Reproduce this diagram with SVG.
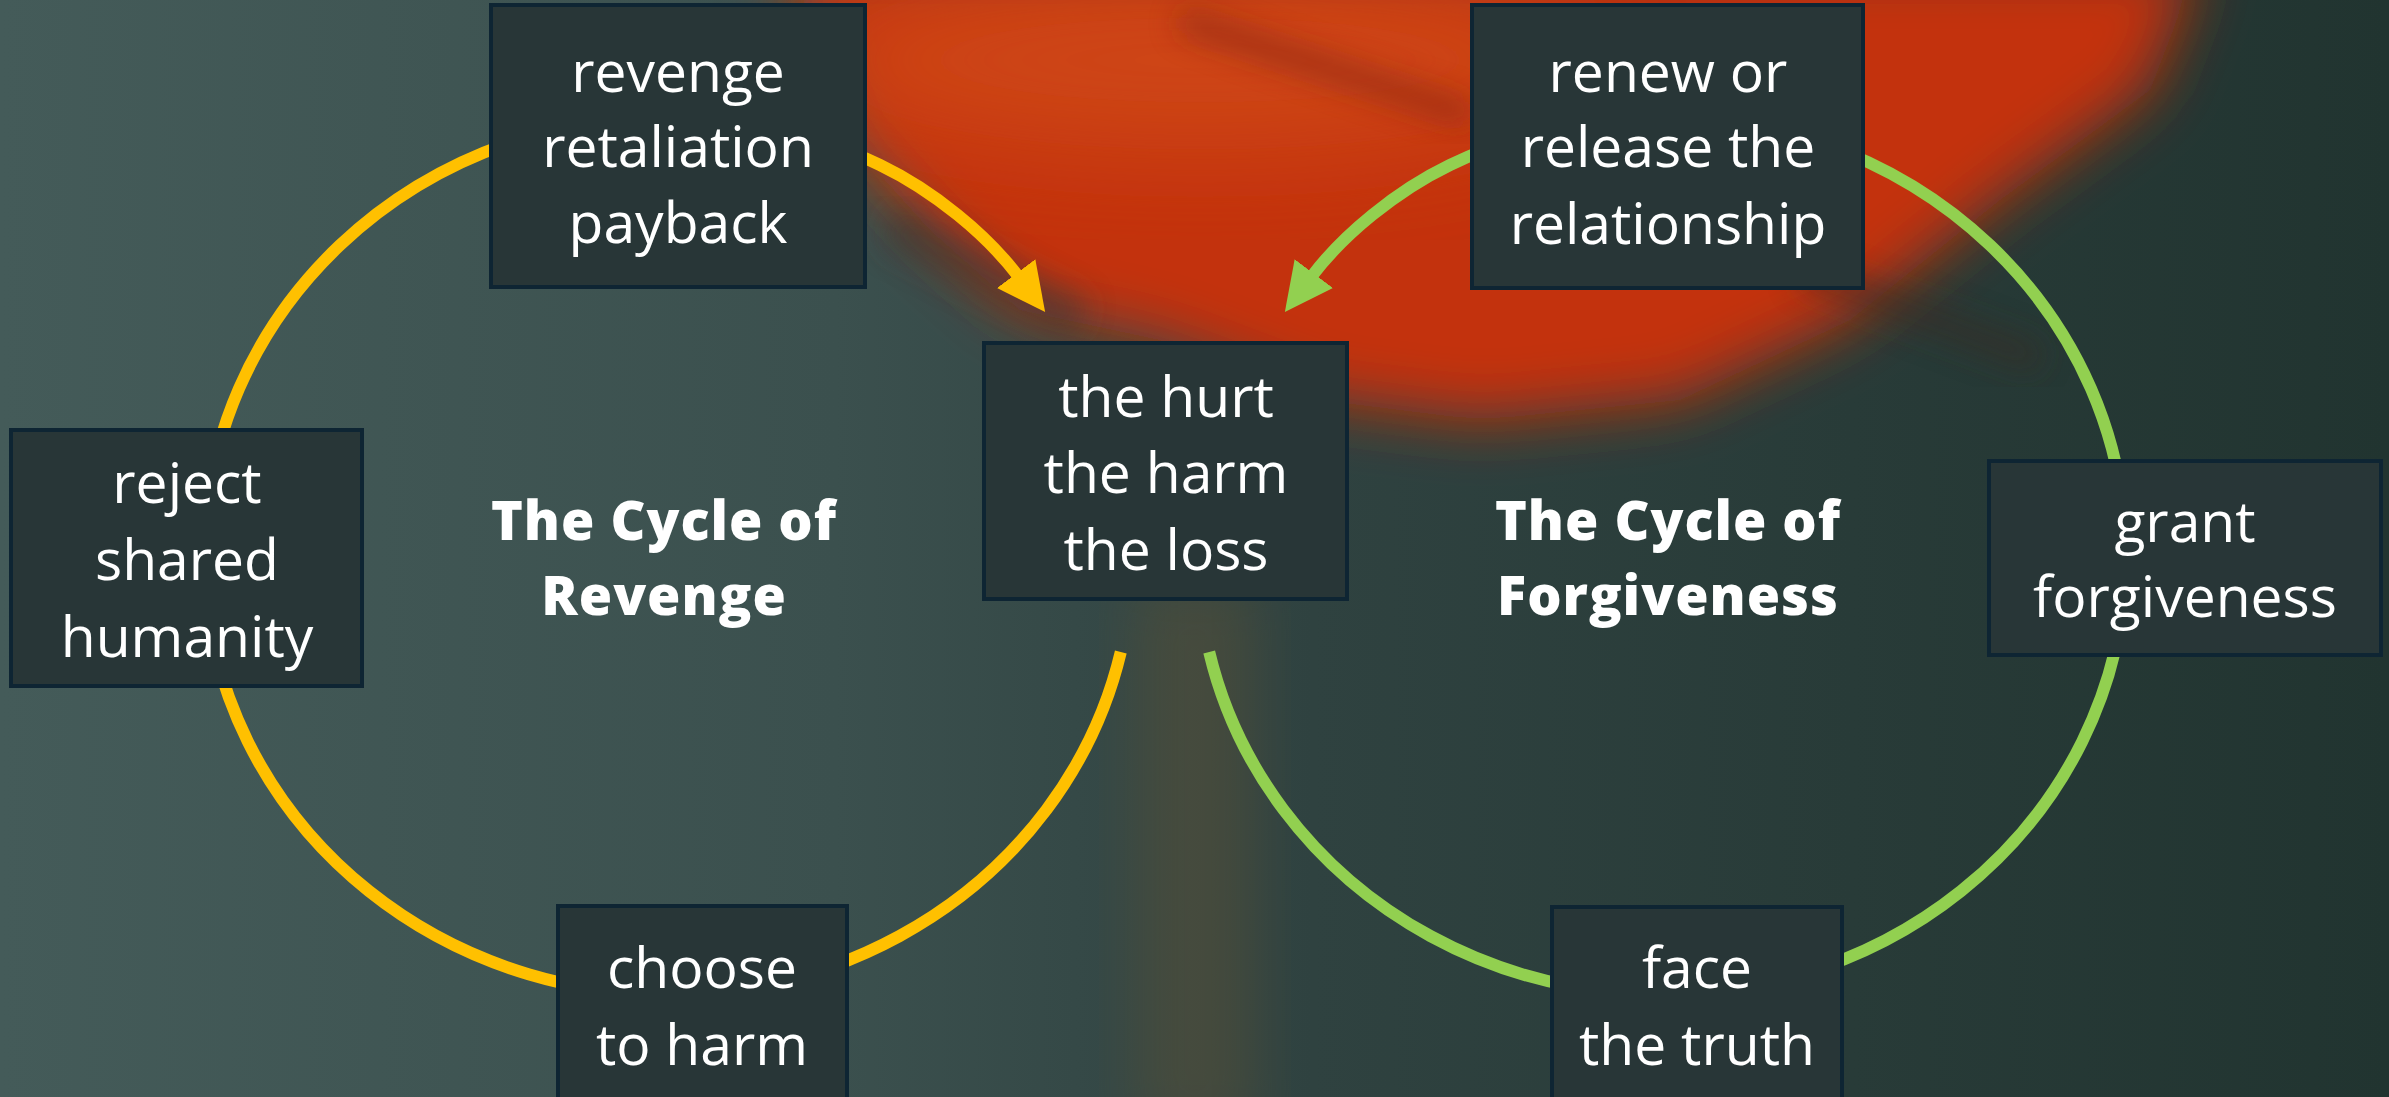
<svg xmlns="http://www.w3.org/2000/svg" width="2389" height="1097" viewBox="0 0 2389 1097">
  <defs>
    <style>
      .box { fill: #283637; stroke: #0e2533; stroke-width: 4; }
      .lbl { font-family: "Open Sans", "Liberation Sans", sans-serif; font-size: 57px; fill: #ffffff; text-anchor: middle; }
      .title { font-family: "Open Sans", "Liberation Sans", sans-serif; font-size: 54px; font-weight: 800; fill: #ffffff; text-anchor: middle; letter-spacing: 1px; }
      .rev { fill: none; stroke: #ffc000; stroke-width: 12; }
      .fgv { fill: none; stroke: #92d050; stroke-width: 12; }
    </style>
    <linearGradient id="bg" x1="0" y1="0" x2="1" y2="0">
      <stop offset="0" stop-color="#445b59"/>
      <stop offset="0.35" stop-color="#3b504e"/>
      <stop offset="0.55" stop-color="#2f4240"/>
      <stop offset="1" stop-color="#213430"/>
    </linearGradient>
    <filter id="blur30" x="-30%" y="-30%" width="160%" height="160%"><feGaussianBlur stdDeviation="30"/></filter>
    <filter id="blur15" x="-30%" y="-30%" width="160%" height="160%"><feGaussianBlur stdDeviation="15"/></filter>
    <filter id="blur50" x="-50%" y="-50%" width="200%" height="200%"><feGaussianBlur stdDeviation="50"/></filter>
    <marker id="arrO" markerUnits="userSpaceOnUse" markerWidth="48" markerHeight="48" viewBox="0 0 48 48" refX="3" refY="24" orient="auto">
      <path d="M0,0 L48,24 L0,48 z" fill="#ffc000"/>
    </marker>
    <marker id="arrG" markerUnits="userSpaceOnUse" markerWidth="48" markerHeight="48" viewBox="0 0 48 48" refX="3" refY="24" orient="auto">
      <path d="M0,0 L48,24 L0,48 z" fill="#92d050"/>
    </marker>
  </defs>

  <g id="background">
    <rect x="0" y="0" width="2389" height="1097" fill="url(#bg)"/>
    <rect x="1135" y="580" width="120" height="560" fill="#6b5530" opacity="0.35" filter="url(#blur30)"/>
    <polygon points="790,-40 2200,-40 2150,90 2000,200 1850,320 1680,400 1480,420 1320,400 1160,340 1020,310 930,230 840,130" fill="#c3300f" filter="url(#blur30)"/>
    <ellipse cx="1200" cy="60" rx="400" ry="90" fill="#d5521a" opacity="0.6" filter="url(#blur50)"/>
    <line x1="1180" y1="20" x2="1470" y2="115" stroke="#7e2414" stroke-width="22" opacity="0.6" filter="url(#blur15)"/>
    <line x1="1800" y1="270" x2="2040" y2="360" stroke="#3a2a24" stroke-width="30" opacity="0.5" filter="url(#blur15)"/>
    <line x1="890" y1="225" x2="1080" y2="320" stroke="#3a3430" stroke-width="40" opacity="0.5" filter="url(#blur15)"/>
  </g>

  <g id="connectors">
    <path id="cycle-revenge" class="rev" d="M 1120.8 652 A 464 439 0 1 1 880 165 C 934 191, 987 235, 1018 276" marker-end="url(#arrO)"/>
    <path id="cycle-forgiveness" class="fgv" d="M 1209.2 652 A 464 439 0 1 0 1450 165 C 1396 191, 1343 235, 1312 276" marker-end="url(#arrG)"/>
  </g>

  <g id="title-revenge">
    <text class="title" x="664" y="540">The Cycle of</text>
    <text class="title" x="664" y="615">Revenge</text>
  </g>
  <g id="title-forgiveness">
    <text class="title" x="1668" y="540">The Cycle of</text>
    <text class="title" x="1668" y="615">Forgiveness</text>
  </g>

  <g id="node-revenge">
    <rect class="box" x="491" y="5" width="374" height="282"/>
    <text class="lbl" x="678" y="92">revenge</text>
    <text class="lbl" x="678" y="167">retaliation</text>
    <text class="lbl" x="678" y="243">payback</text>
  </g>
  <g id="node-hurt">
    <rect class="box" x="984" y="343" width="363" height="256"/>
    <text class="lbl" x="1166" y="417">the hurt</text>
    <text class="lbl" x="1166" y="493">the harm</text>
    <text class="lbl" x="1166" y="570">the loss</text>
  </g>
  <g id="node-renew">
    <rect class="box" x="1472" y="5" width="391" height="283"/>
    <text class="lbl" x="1668" y="92">renew or</text>
    <text class="lbl" x="1668" y="167">release the</text>
    <text class="lbl" x="1668" y="244">relationship</text>
  </g>
  <g id="node-reject">
    <rect class="box" x="11" y="430" width="351" height="256"/>
    <text class="lbl" x="187" y="503">reject</text>
    <text class="lbl" x="187" y="580">shared</text>
    <text class="lbl" x="187" y="657">humanity</text>
  </g>
  <g id="node-grant">
    <rect class="box" x="1989" y="461" width="392" height="194"/>
    <text class="lbl" x="2185" y="542">grant</text>
    <text class="lbl" x="2185" y="617">forgiveness</text>
  </g>
  <g id="node-choose">
    <rect class="box" x="558" y="906" width="289" height="200"/>
    <text class="lbl" x="702" y="988">choose</text>
    <text class="lbl" x="702" y="1065">to harm</text>
  </g>
  <g id="node-face">
    <rect class="box" x="1552" y="907" width="290" height="200"/>
    <text class="lbl" x="1697" y="988">face</text>
    <text class="lbl" x="1697" y="1065">the truth</text>
  </g>
</svg>
